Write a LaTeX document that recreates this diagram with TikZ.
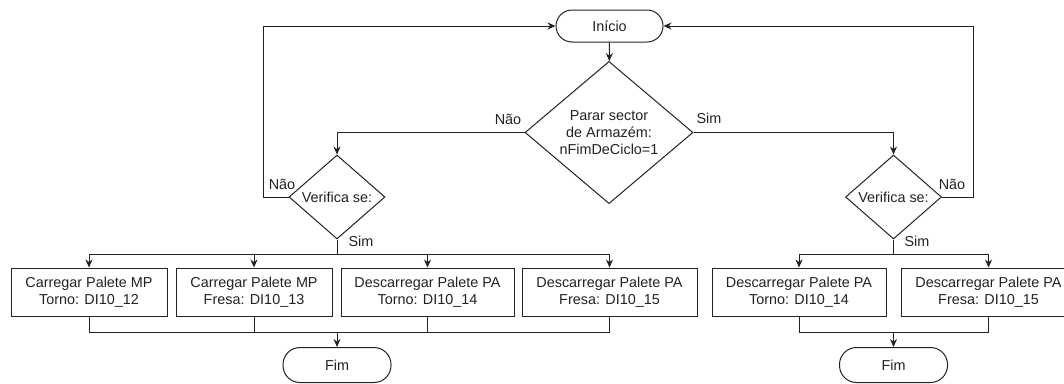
\documentclass[tikz,border=0pt]{standalone}
\usepackage{fontspec}
\setmainfont{Liberation Sans}
\usetikzlibrary{shapes.geometric,arrows.meta}
\definecolor{ink}{HTML}{222222}
\begin{document}
\begin{tikzpicture}[x=1pt,y=-1pt,
  every node/.style={font=\fontsize{14.4}{16.7}\selectfont, text=ink},
  line/.style={draw=ink, line width=1pt},
  arr/.style={line, -{Stealth[length=8pt,width=7pt]}},
  terminal/.style={line, rectangle, rounded corners=16pt, minimum width=107pt, minimum height=32pt, inner sep=0pt},
  task/.style={line, rectangle, minimum height=48pt, inner sep=0pt, align=center},
  decision/.style={line, diamond, inner sep=0pt, align=center},
  lbl/.style={inner sep=0pt}]
\useasboundingbox (0,0) rectangle (1064,383);

% start, main decision
\node[terminal] (ini) at (609.5,26) {Início};
\node[decision, minimum width=168pt, minimum height=139pt] (dec) at (609,132.5)
  {Parar sector\\de Armazém:\\nFimDeCiclo=1};

% left and right checks
\node[decision, minimum width=96pt, minimum height=84pt] (dl) at (337,197) {Verifica se:};
\node[decision, minimum width=96pt, minimum height=84pt] (dr) at (893.5,197) {Verifica se:};

% tasks, left group
\node[task, minimum width=156pt] (b1) at (89,292)  {Carregar Palete MP\\Torno: DI10\_12};
\node[task, minimum width=156pt] (b2) at (254,292) {Carregar Palete MP\\Fresa: DI10\_13};
\node[task, minimum width=173pt] (b3) at (427.5,292) {Descarregar Palete PA\\Torno: DI10\_14};
\node[task, minimum width=175pt] (b4) at (609.5,292) {Descarregar Palete PA\\Fresa: DI10\_15};

% tasks, right group
\node[task, minimum width=174pt] (b5) at (799,292) {Descarregar Palete PA\\Torno: DI10\_14};
\node[task, minimum width=174pt] (b6) at (988.5,292) {Descarregar Palete PA\\Fresa: DI10\_15};

% end terminals
\node[terminal, minimum height=35pt, rounded corners=17pt, minimum width=108pt] (fimL) at (337,365) {Fim};
\node[terminal, minimum height=35pt, rounded corners=17pt, minimum width=108pt] (fimR) at (893.5,365) {Fim};

% routing points
\coordinate (loopL) at (263,197);
\coordinate (loopR) at (973,197);
\coordinate (busL) at (337,254);
\coordinate (busR) at (893.5,254);
\coordinate (joinL) at (337,332);
\coordinate (joinR) at (893.5,332);

% flow
\draw[arr] (ini) -- (dec);
\draw[arr] (dec.west) -| (dl.north);
\draw[arr] (dec.east) -| (dr.north);
\draw[arr] (dl.west) -- (loopL) |- (ini.west);
\draw[arr] (dr.east) -- (loopR) |- (ini.east);

\draw[line] (dl.south) -- (busL);
\foreach \b in {b1,b2,b3,b4} \draw[arr] (busL) -| (\b.north);
\draw[line] (dr.south) -- (busR);
\foreach \b in {b5,b6} \draw[arr] (busR) -| (\b.north);

\foreach \b in {b1,b2,b3,b4} \draw[line] (\b.south) |- (joinL);
\draw[arr] (joinL) -- (fimL);
\foreach \b in {b5,b6} \draw[line] (\b.south) |- (joinR);
\draw[arr] (joinR) -- (fimR);

% branch labels
\node[lbl] (nao0) at (508,119) {Não};
\node[lbl] (sim0) at (709,118) {Sim};
\node[lbl] (nao1) at (282,184) {Não};
\node[lbl] (sim1) at (361,241) {Sim};
\node[lbl] (nao2) at (952,184) {Não};
\node[lbl] (sim2) at (917,241) {Sim};
\end{tikzpicture}
\end{document}
